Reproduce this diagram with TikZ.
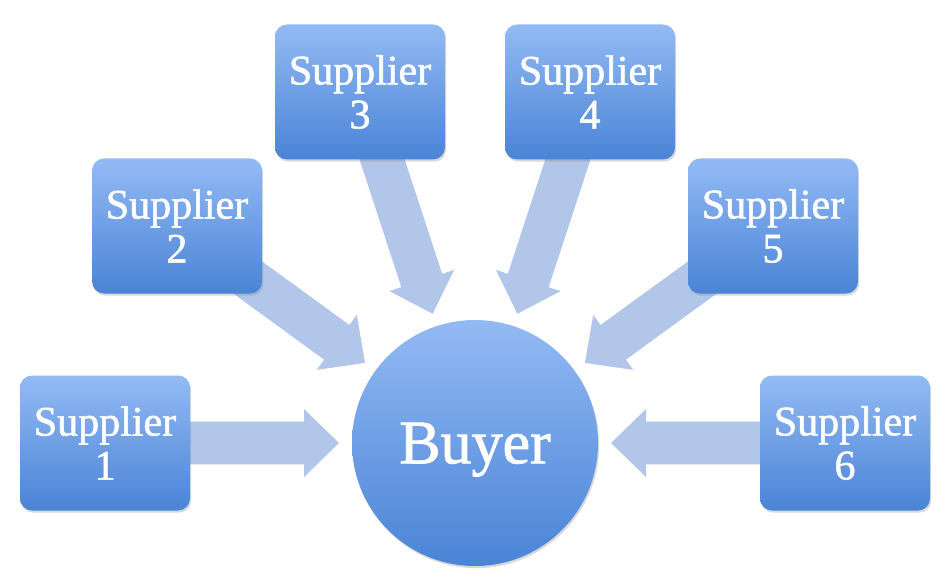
\documentclass[tikz,border=0pt]{standalone}
\usepackage{fontspec}
\setmainfont{Liberation Serif}
\newfontfamily\heavyserif{Liberation Serif}[FakeBold=1.3]
\usetikzlibrary{calc,shadows}
\pgfdeclarelayer{bg}
\pgfsetlayers{bg,main}
\definecolor{boxtop}{HTML}{93BAF4}
\definecolor{boxbot}{HTML}{4A84D6}
\definecolor{arrowfill}{HTML}{B2C6EA}
\tikzset{
  supplier/.style={rectangle, rounded corners=9pt, minimum width=127.5pt,
    minimum height=101.25pt, top color=boxtop, bottom color=boxbot, draw=none,
    text=white, font=\heavyserif\fontsize{31.5pt}{33pt}\selectfont, align=center, inner sep=0pt,
    drop shadow={opacity=0.3, shadow xshift=0.9pt, shadow yshift=-1.6pt}},
  buyernode/.style={circle, minimum size=184.5pt, inner sep=0pt, draw=none,
    top color=boxtop, bottom color=boxbot, text=white, text depth=0pt,
    font=\heavyserif\fontsize{46.5pt}{48pt}\selectfont,
    drop shadow={opacity=0.3, shadow xshift=0.9pt, shadow yshift=-1.6pt}},
  flowarrow/.style={fill=arrowfill, draw=none}
}
\newcommand\flowarrowfrom[1]{%
  \coordinate (T) at ($(buyer.center)!102pt!(#1.center)$);
  \coordinate (H) at ($(buyer.center)!128.25pt!(#1.center)$);
  \fill[flowarrow] (T) -- ($(H)!25.5pt!90:(#1.center)$) -- ($(H)!16.1pt!90:(#1.center)$)
    -- ($(#1.center)!16.1pt!-90:(buyer.center)$) -- ($(#1.center)!16.1pt!90:(buyer.center)$)
    -- ($(H)!16.1pt!-90:(#1.center)$) -- ($(H)!25.5pt!-90:(#1.center)$) -- cycle;}
\begin{document}
\begin{tikzpicture}[x=0.75pt,y=-0.75pt]
  \useasboundingbox (0,0) rectangle (945,588);
  \node[buyernode] (buyer) at (475,443) {Buyer};
  \node[supplier] (s1) at (105,443) {Supplier\\1};
  \node[supplier] (s2) at (177,226) {Supplier\\2};
  \node[supplier] (s3) at (360,92) {Supplier\\3};
  \node[supplier] (s4) at (590,92) {Supplier\\4};
  \node[supplier] (s5) at (773,226) {Supplier\\5};
  \node[supplier] (s6) at (845,443) {Supplier\\6};
  \begin{pgfonlayer}{bg}
    \flowarrowfrom{s1}
    \flowarrowfrom{s2}
    \flowarrowfrom{s3}
    \flowarrowfrom{s4}
    \flowarrowfrom{s5}
    \flowarrowfrom{s6}
  \end{pgfonlayer}
\end{tikzpicture}
\end{document}
